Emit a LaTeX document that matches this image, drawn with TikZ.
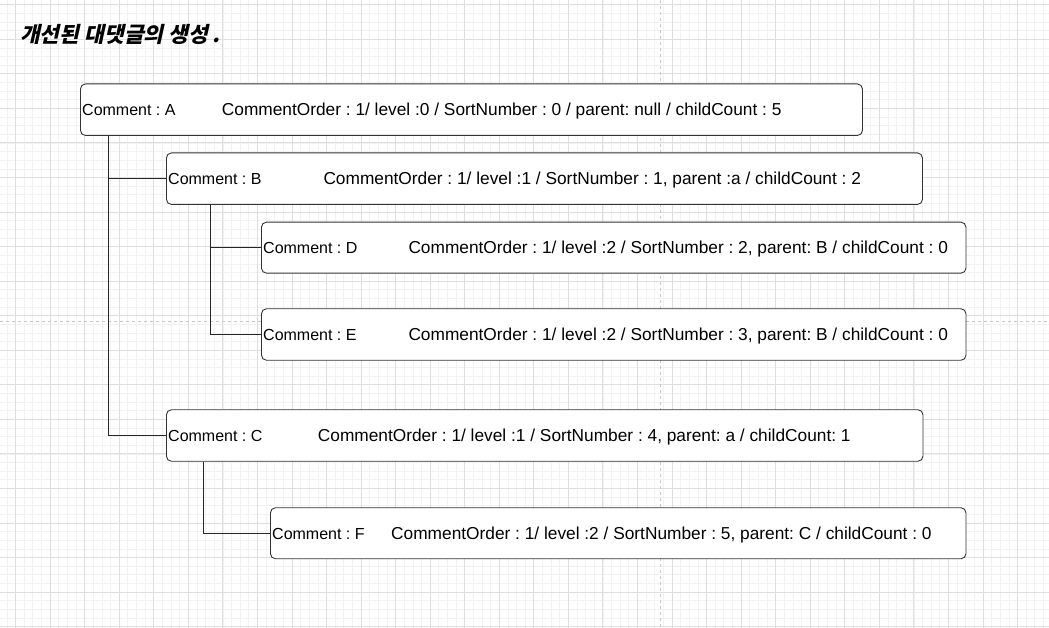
\documentclass[tikz,border=0pt]{standalone}
\usepackage{fontspec}
\setmainfont{Liberation Sans}
\newfontfamily\krfont{Noto Sans CJK KR}[FakeSlant=0.22]
\usetikzlibrary{positioning}
\frenchspacing

\begin{document}
\begin{tikzpicture}[x=1pt, y=-1pt,
		minorline/.style={draw=black!5, line width=0.6pt},
		majorline/.style={draw=black!13, line width=0.8pt},
		pagebreak/.style={draw=black!22, line width=0.8pt, dash pattern=on 3pt off 3pt},
		comment/.style={draw=black!80, fill=white, line width=0.9pt, rounded corners=5pt,
				inner sep=0pt, anchor=north west},
		txt/.style={inner sep=0pt, anchor=base west, font=\fontsize{16}{18}\selectfont},
		info/.style={txt, font=\fontsize{17.3}{19}\selectfont},
		link/.style={draw=black!85, line width=0.9pt}]
		% Define the grid step
		\def\gridstep{34.55}
		\def\minorstep{8.6375}

		\useasboundingbox (0,0) rectangle (1049,628);
		\fill[white] (0,0) rectangle (1049,628);

		% Draw the background grid
		\foreach \k in {0,...,121} {
				\draw[minorline] ({6.86+\k*\minorstep},0) -- ++(0,628);
			}
		\foreach \k in {0,...,72} {
				\draw[minorline] (0,{4.7+\k*\minorstep}) -- ++(1049,0);
			}
		\foreach \k in {0,...,30} {
				\draw[majorline] ({15.5+\k*\gridstep},0) -- ++(0,628);
			}
		\foreach \k in {0,...,18} {
				\draw[majorline] (0,{4.7+\k*\gridstep}) -- ++(1049,0);
			}

		% Page break lines
		\draw[pagebreak] (660,0) -- (660,628);
		\draw[pagebreak] (0,321) -- (1049,321);

		% Title
		\node[inner sep=0pt, anchor=west, font=\krfont\bfseries\fontsize{21.5}{23}\selectfont]
		(title) at (20,34.5) {개선된 대댓글의 생성 .};

		% Comment boxes
		\node[comment, minimum width=782pt, minimum height=51.5pt] (A) at (80,83.5) {};
		\node[comment, minimum width=756pt, minimum height=51.5pt] (B) at (166,152.5) {};
		\node[comment, minimum width=704.5pt, minimum height=51pt] (D) at (261,221.7) {};
		\node[comment, minimum width=704.5pt, minimum height=51.5pt] (E) at (261,308.3) {};
		\node[comment, minimum width=756.5pt, minimum height=51.5pt] (C) at (166,409.3) {};
		\node[comment, minimum width=695.5pt, minimum height=51pt] (F) at (270,507.3) {};

		% Labels
		\node[txt] (Aname) at ([shift={(2pt,-5.8pt)}]A.west) {Comment : A};
		\node[info] (Ainfo) at ([shift={(141.7pt,-5.8pt)}]A.west)
		{CommentOrder : 1/ level :0 / SortNumber : 0 / parent: null / childCount : 5};
		\node[txt] (Bname) at ([shift={(2pt,-5.8pt)}]B.west) {Comment : B};
		\node[info] (Binfo) at ([shift={(157.3pt,-5.8pt)}]B.west)
		{CommentOrder : 1/ level :1 / SortNumber : 1, parent :a / childCount : 2};
		\node[txt] (Dname) at ([shift={(2pt,-5.8pt)}]D.west) {Comment : D};
		\node[info] (Dinfo) at ([shift={(147.3pt,-5.8pt)}]D.west)
		{CommentOrder : 1/ level :2 / SortNumber : 2, parent: B / childCount : 0};
		\node[txt] (Ename) at ([shift={(2pt,-5.8pt)}]E.west) {Comment : E};
		\node[info] (Einfo) at ([shift={(147.3pt,-5.8pt)}]E.west)
		{CommentOrder : 1/ level :2 / SortNumber : 3, parent: B / childCount : 0};
		\node[txt] (Cname) at ([shift={(2pt,-5.8pt)}]C.west) {Comment : C};
		\node[info] (Cinfo) at ([shift={(151.7pt,-5.8pt)}]C.west)
		{CommentOrder : 1/ level :1 / SortNumber : 4, parent: a / childCount: 1};
		\node[txt] (Fname) at ([shift={(2pt,-5.8pt)}]F.west) {Comment : F};
		\node[info] (Finfo) at ([shift={(121pt,-5.8pt)}]F.west)
		{CommentOrder : 1/ level :2 / SortNumber : 5, parent: C / childCount : 0};

		% Connectors between parent and child
		\draw[link] ([xshift=-754pt]A.south east) |- (B.west);
		\draw[link] ([xshift=-754pt]A.south east) |- (C.west);
		\draw[link] ([xshift=-712pt]B.south east) |- (D.west);
		\draw[link] ([xshift=-712.5pt]B.south east) |- (E.west);
		\draw[link] ([xshift=-719.8pt]C.south east) |- (F.west);
	\end{tikzpicture}
\end{document}
